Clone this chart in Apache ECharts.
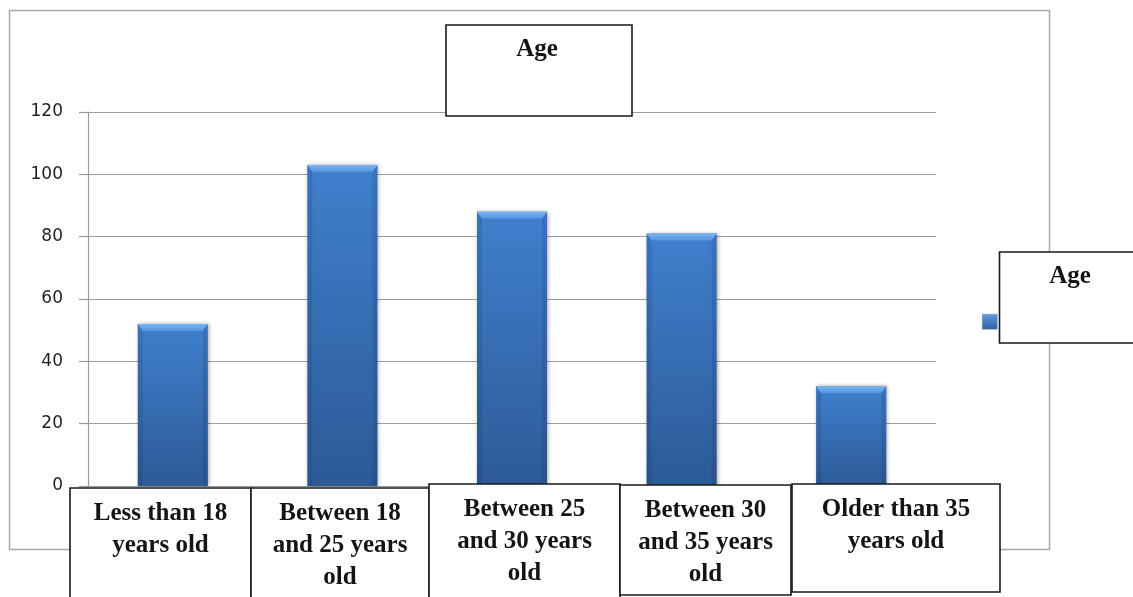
<!DOCTYPE html>
<html>
<head>
<meta charset="utf-8">
<script src="https://cdn.jsdelivr.net/npm/echarts@6/dist/echarts.min.js"></script>
<style>
  html, body { margin: 0; padding: 0; background: #ffffff; }
  #chart { width: 1133px; height: 597px; }
</style>
</head>
<body>
<div id="chart"></div>
<script>
// Age groups of respondents and how many fall in each
const categories = [
  'Less than 18\nyears old',
  'Between 18\nand 25 years\nold',
  'Between 25\nand 30 years\nold',
  'Between 30\nand 35 years\nold',
  'Older than 35\nyears old'
];
const ageCounts = [52, 103, 88, 81, 32];
const seriesName = 'Age';
const chartTitle = 'Age';

// Framed boxes holding the category names under the axis (layout only)
const labelBoxes = [
  { x: 70,  y: 488, w: 181, h: 120 },
  { x: 251, y: 488, w: 178, h: 120 },
  { x: 429, y: 484, w: 191, h: 120 },
  { x: 620, y: 485, w: 171, h: 110 },
  { x: 792, y: 484, w: 208, h: 108 }
];

const serifBold = 'bold 25px "Liberation Serif", "Times New Roman", serif';
const boxStroke = '#1a1a1a';

// Bevelled column drawn from the value scale
function renderBar(params, api) {
  const idx = api.value(0);
  const val = api.value(1);
  const top = api.coord([idx, val]);
  const base = api.coord([idx, 0]);
  const w = api.size([1, 0])[0] * 0.413;
  const x = top[0] - w / 2;
  const y = top[1];
  const h = base[1] - top[1];
  const b = 7;
  const s = 5;
  return {
    type: 'group',
    children: [
      {
        type: 'rect',
        shape: { x: x, y: y, width: w, height: h },
        style: {
          fill: new echarts.graphic.LinearGradient(0, 0, 0, 1, [
            { offset: 0, color: '#4080ce' },
            { offset: 1, color: '#2d5a97' }
          ]),
          shadowBlur: 4,
          shadowColor: 'rgba(0,0,0,0.35)',
          shadowOffsetX: 1,
          shadowOffsetY: 0
        }
      },
      {
        type: 'polygon',
        shape: { points: [[x, y], [x + s, y + b], [x + s, y + h], [x, y + h]] },
        style: { fill: 'rgba(15,35,75,0.14)' }
      },
      {
        type: 'polygon',
        shape: { points: [[x + w, y], [x + w - s, y + b], [x + w - s, y + h], [x + w, y + h]] },
        style: { fill: 'rgba(15,35,75,0.14)' }
      },
      {
        type: 'polygon',
        shape: { points: [[x, y], [x + w, y], [x + w - s, y + b], [x + s, y + b]] },
        style: {
          fill: new echarts.graphic.LinearGradient(0, 0, 0, 1, [
            { offset: 0, color: '#7cb7f2' },
            { offset: 1, color: '#5393e0' }
          ])
        }
      }
    ]
  };
}

// Category boxes with their wrapped names
const boxGraphics = [];
labelBoxes.forEach(function (bx, i) {
  boxGraphics.push({
    type: 'rect',
    z: 100,
    shape: { x: bx.x, y: bx.y, width: bx.w, height: bx.h },
    style: { fill: '#ffffff', stroke: boxStroke, lineWidth: 1.6 }
  });
  boxGraphics.push({
    type: 'text',
    z: 101,
    x: bx.x + bx.w / 2,
    y: bx.y + 10,
    style: {
      text: categories[i],
      font: serifBold,
      fill: '#141414',
      align: 'center',
      verticalAlign: 'top',
      lineHeight: 32
    }
  });
});

const chart = echarts.init(document.getElementById('chart'), null, { renderer: 'canvas' });

chart.setOption({
  animation: false,
  backgroundColor: '#ffffff',
  grid: { left: 88, right: 197, top: 112, bottom: 111, containLabel: false },
  legend: {
    left: 977,
    top: 309,
    itemWidth: 15,
    itemHeight: 15,
    itemGap: 6,
    icon: 'rect',
    data: [{
      name: seriesName,
      itemStyle: {
        color: new echarts.graphic.LinearGradient(0, 0, 0, 1, [
          { offset: 0, color: '#5f9be0' },
          { offset: 1, color: '#2f5e9d' }
        ]),
        borderColor: '#6f8fb8',
        borderWidth: 0.5
      }
    }],
    textStyle: { color: '#c0601a', fontSize: 14, fontFamily: 'DejaVu Sans' }
  },
  xAxis: {
    type: 'category',
    data: categories,
    axisLine: { show: true, lineStyle: { color: '#9a9a9a', width: 1 } },
    axisTick: { show: false },
    axisLabel: { show: false },
    splitLine: { show: false }
  },
  yAxis: {
    type: 'value',
    min: 0,
    max: 120,
    interval: 20,
    axisLine: { show: true, lineStyle: { color: '#9a9a9a', width: 1.2 } },
    axisTick: { show: true, inside: false, length: 9, lineStyle: { color: '#9a9a9a', width: 1.2 } },
    axisLabel: {
      margin: 25,
      color: '#1f1f1f',
      fontSize: 17,
      fontFamily: 'DejaVu Sans'
    },
    splitLine: { show: true, lineStyle: { color: '#9d9d9d', width: 1.2 } }
  },
  series: [{
    name: seriesName,
    type: 'custom',
    renderItem: renderBar,
    itemStyle: { color: '#3d78c4' },
    encode: { x: 0, y: 1 },
    data: ageCounts.map(function (v, i) { return [i, v]; }),
    z: 2
  }],
  graphic: [
    // outer chart frame
    {
      type: 'rect',
      z: -10,
      silent: true,
      shape: { x: 9.5, y: 10.5, width: 1040, height: 539 },
      style: { fill: null, stroke: '#a8a8a8', lineWidth: 1.5 }
    },
    // title box
    {
      type: 'rect',
      z: 100,
      shape: { x: 446, y: 25, width: 186, height: 91 },
      style: { fill: '#ffffff', stroke: boxStroke, lineWidth: 1.6 }
    },
    {
      type: 'text',
      z: 101,
      x: 537,
      y: 50,
      style: {
        text: chartTitle,
        font: serifBold,
        fill: '#141414',
        align: 'center',
        verticalAlign: 'middle'
      }
    },
    // legend caption box
    {
      type: 'rect',
      z: 100,
      shape: { x: 999.5, y: 252, width: 150, height: 91 },
      style: { fill: '#ffffff', stroke: boxStroke, lineWidth: 1.6 }
    },
    {
      type: 'text',
      z: 101,
      x: 1070,
      y: 277,
      style: {
        text: seriesName,
        font: serifBold,
        fill: '#141414',
        align: 'center',
        verticalAlign: 'middle'
      }
    }
  ].concat(boxGraphics)
});
</script>
</body>
</html>
